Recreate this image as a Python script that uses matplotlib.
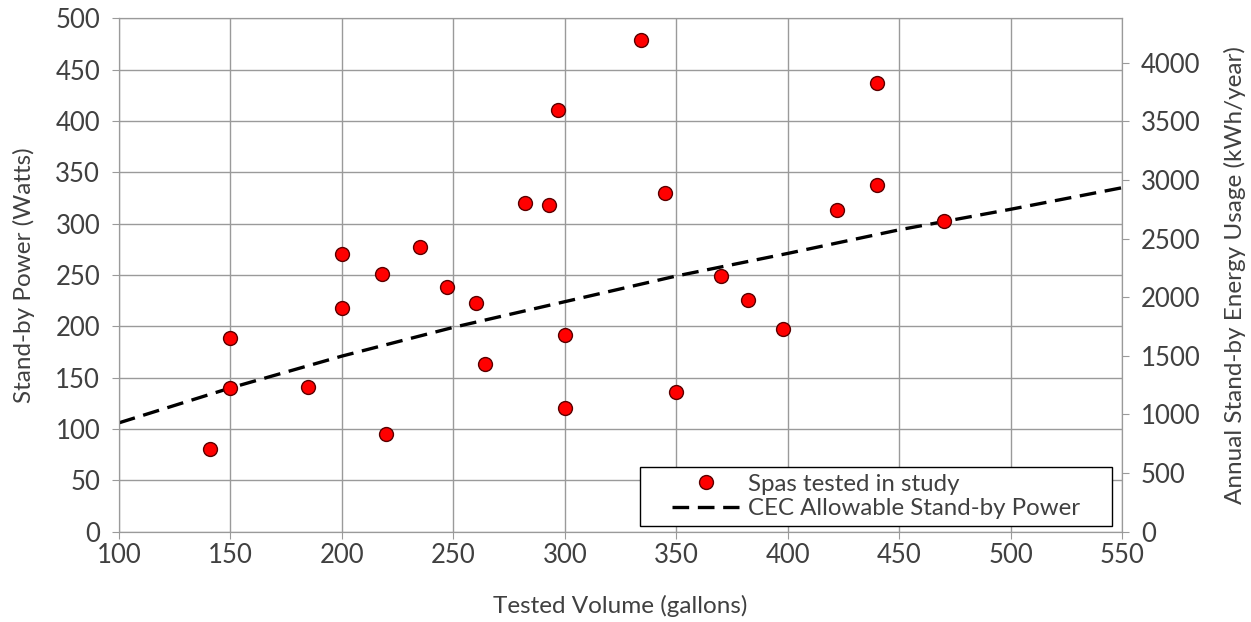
import matplotlib.pyplot as plt
from matplotlib.patches import Rectangle

plt.rcParams['font.family'] = ['Lato', 'DejaVu Sans']

# spas tested in study: volume (gallons), stand-by power (W)
volume = [141, 150, 150, 185, 200, 200, 218, 220, 235, 247, 260, 264, 282, 293,
          297, 300, 300, 334, 345, 350, 370, 382, 398, 422, 440, 440, 470]
power = [81, 189, 140, 141, 270, 218, 251, 95, 277, 238, 223, 163, 320, 318,
         411, 192, 120, 479, 330, 136, 249, 226, 197, 313, 437, 338, 303]

# CEC allowable stand-by power
cec_volume = [100, 150, 200, 250, 300, 350, 400, 450, 500, 550]
cec_power = [106, 140, 171, 199, 224, 249, 271, 294, 314, 335]

hours_per_year = 8.76  # W -> kWh/year

fig = plt.figure(figsize=(12.51, 6.22), dpi=100)
ax = fig.add_axes([0.0951, 0.1452, 0.8019, 0.8254])

grid_c = '#9a9a9a'
text_c = '#404040'

ax.plot(volume, power, 'o', color='#ff0000', markeredgecolor='#5a0000',
        markeredgewidth=1, markersize=10, label='Spas tested in study', zorder=3)
ax.plot(cec_volume, cec_power, color='black', linewidth=2.4, dashes=(5, 2.6),
        label='CEC Allowable Stand-by Power', zorder=2)

ax.set_xlim(100, 550)
ax.set_ylim(0, 500)
ax.set_xticks(range(100, 551, 50))
ax.set_yticks(range(0, 501, 50))
ax.grid(True, color=grid_c, linewidth=1)
ax.set_axisbelow(True)
for s in ax.spines.values():
    s.set_color(grid_c)
ax.tick_params(colors=grid_c, labelcolor=text_c, labelsize=18.5, length=5, direction='out')
ax.tick_params(axis='y', pad=8.5)
ax.set_xlabel('Tested Volume (gallons)', fontsize=17.5, color=text_c, labelpad=19)
ax.set_ylabel('Stand-by Power (Watts)', fontsize=17.5, color=text_c, labelpad=15)

ax2 = ax.twinx()
ax2.set_ylim(0, 500 * hours_per_year)
ax2.set_yticks(range(0, 4001, 500))
for s in ax2.spines.values():
    s.set_color(grid_c)
ax2.tick_params(colors=grid_c, labelcolor=text_c, labelsize=18.5, length=5,
                direction='out', pad=8.5)
ax2.set_ylabel('Annual Stand-by Energy Usage (kWh/year)', fontsize=17.5, color=text_c, labelpad=17)

# legend frame drawn separately so it can be wider than its entries
box = Rectangle((0.519, 0.011), 0.471, 0.115, transform=ax.transAxes,
                facecolor='white', edgecolor='black', linewidth=1, zorder=4)
ax.add_patch(box)
leg = ax.legend(loc='center', bbox_to_anchor=(0.7545, 0.0685), frameon=False,
                fontsize=17.3, handlelength=2.8, handletextpad=0.35,
                borderpad=0.25, labelspacing=0.15)
leg.set_zorder(5)
for t in leg.get_texts():
    t.set_color(text_c)

fig.savefig('out.png', dpi=100)
